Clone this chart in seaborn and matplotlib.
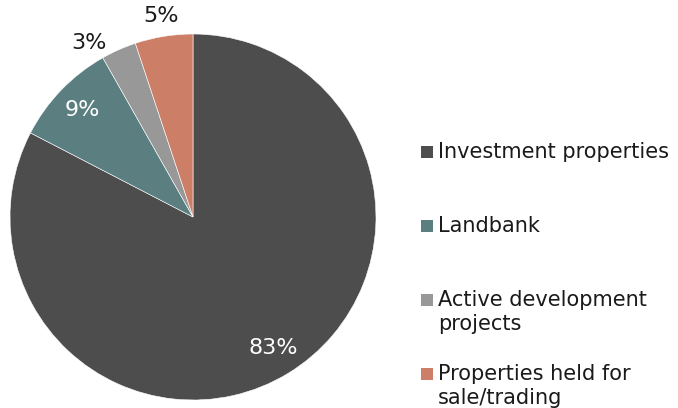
import matplotlib
matplotlib.use("Agg")
import matplotlib.pyplot as plt
import seaborn as sns
import numpy as np
from matplotlib.patches import Rectangle

sns.set_theme(style="white")
plt.rcParams['font.family'] = ['DejaVu Sans']

# доли портфеля, %
categories = ["Investment properties", "Landbank",
              "Active development\nprojects", "Properties held for\nsale/trading"]
shares = [82.6, 9.2, 3.1, 5.1]
colors = ["#4d4d4d", "#5b7f80", "#989898", "#cc7f66"]

fig = plt.figure(figsize=(6.78, 4.08), dpi=100)
W, H = 678, 408
cx, cy, r = 193, 217, 183
ax = fig.add_axes([(cx - r) / W, (H - cy - r) / H, 2 * r / W, 2 * r / H])

wedges, texts, autotexts = ax.pie(
    shares, colors=colors, startangle=90, counterclock=False,
    autopct='%.0f%%', pctdistance=0.84,
    wedgeprops=dict(edgecolor="white", linewidth=0.4),
    textprops=dict(fontsize=16, color="white"))
ax.set_xlim(-1, 1)
ax.set_ylim(-1, 1)
ax.set_aspect("equal")

# маленькие доли подписываем снаружи
for w, t, shift in zip(wedges, autotexts, [0, 0, 7, 0]):
    if w.theta2 - w.theta1 < 25:
        ang = np.deg2rad((w.theta1 + w.theta2) / 2 + shift)
        t.set_position((1.11 * np.cos(ang), 1.11 * np.sin(ang)))
        t.set_color("#1a1a1a")

# легенда справа, маркер на уровне первой строки
rows = [152, 226, 300, 374]
for lab, col, y in zip(categories, colors, rows):
    fig.add_artist(Rectangle((421 / W, (H - y - 6) / H), 12 / W, 12 / H,
                             facecolor=col, edgecolor="none",
                             transform=fig.transFigure))
    for i, line in enumerate(lab.split("\n")):
        fig.text(438 / W, (H - y - 24.5 * i) / H, line, fontsize=15,
                 color="#1a1a1a", va="center", ha="left")

fig.savefig("out.png", dpi=100)
